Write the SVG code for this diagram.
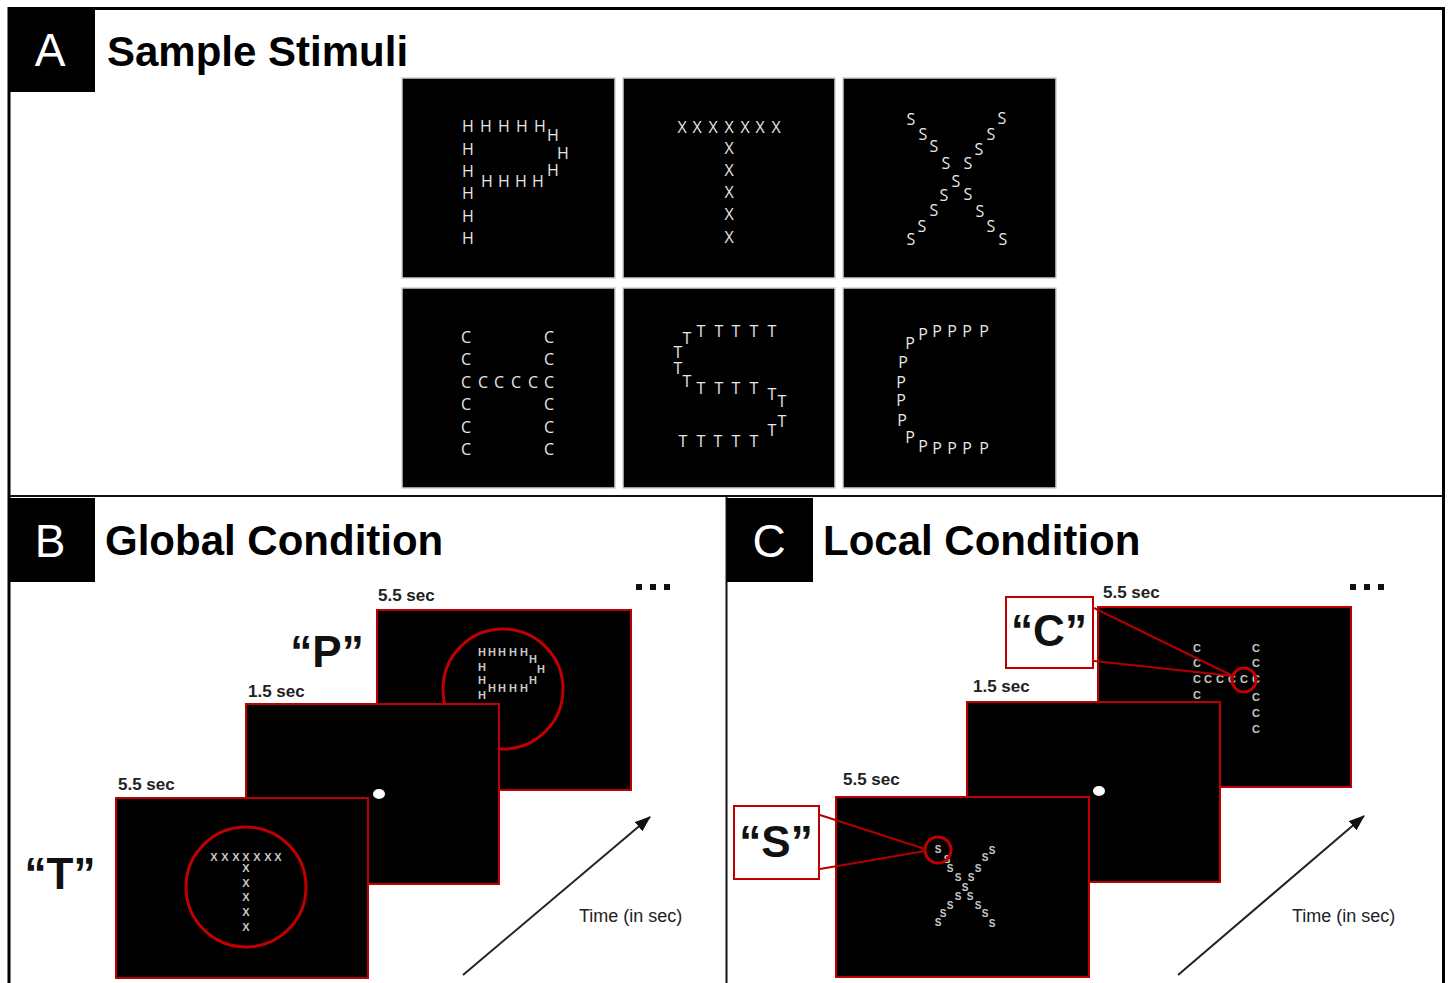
<svg xmlns="http://www.w3.org/2000/svg" width="1448" height="983" viewBox="0 0 1448 983">
  <defs>
    <style>
      .frame-line { fill: none; stroke: #000; stroke-width: 3; }
      .divider { stroke: #111; stroke-width: 2; }
      .tag { fill: #000; }
      .tag-text { font-family: "Liberation Sans", Arial, sans-serif; font-size: 46px; fill: #fff; text-anchor: middle; }
      .title { font-family: "Liberation Sans", Arial, sans-serif; font-weight: bold; font-size: 42px; fill: #000; }
      .card { fill: #000; stroke: #cfcfcf; stroke-width: 1.5; }
      .glyph { font-family: "Open Sans", "Noto Sans", sans-serif; font-size: 16px; fill: #e6e6e6; text-anchor: middle; }
      .screen { fill: #000; stroke: #c00000; stroke-width: 2; }
      .ring { fill: none; stroke: #c00000; stroke-width: 3; }
      .mini { font-family: "Liberation Sans", Arial, sans-serif; font-weight: bold; font-size: 11px; fill: #c8c8c8; text-anchor: middle; }
      .mini-s { font-family: "Liberation Sans", Arial, sans-serif; font-weight: bold; font-size: 10px; fill: #c8c8c8; text-anchor: middle; }
      .dur { font-family: "Liberation Sans", Arial, sans-serif; font-weight: bold; font-size: 17px; fill: #222; }
      .quote { font-family: "Liberation Sans", Arial, sans-serif; font-weight: bold; font-size: 44px; fill: #111; text-anchor: middle; }
      .axis { font-family: "Liberation Sans", Arial, sans-serif; font-size: 18px; fill: #222; }
      .callbox { fill: #fff; stroke: #c00000; stroke-width: 2; }
      .callline { stroke: #b00000; stroke-width: 2; fill: none; }
      .time-arrow { stroke: #222; stroke-width: 2; fill: none; marker-end: url(#head); }
      .dots { fill: #111; }
    </style>
    <marker id="head" viewBox="0 0 16 12" refX="15" refY="6" markerWidth="16" markerHeight="12" markerUnits="userSpaceOnUse" orient="auto">
      <path d="M0,0 L16,6 L0,12 z" fill="#111"/>
    </marker>
  </defs>

  <rect x="0" y="0" width="1448" height="983" fill="#fff"/>

  <!-- outer frame and panel dividers -->
  <g id="layout">
    <path class="frame-line" d="M9,983 V8.5 H1443.5 V983"/>
    <line class="divider" x1="9" y1="496" x2="1443" y2="496"/>
    <line class="divider" x1="726.5" y1="496" x2="726.5" y2="983"/>
  </g>

  <!-- panel A -->
  <g id="panel-a-header">
    <rect class="tag" x="8" y="8" width="87" height="84"/>
    <text class="tag-text" x="50" y="66">A</text>
    <text class="title" x="107" y="66" font-size="41">Sample Stimuli</text>
  </g>

  <g id="stim-P">
    <rect class="card" x="402" y="78" width="213" height="200"/>
    <g class="glyph">
      <text x="468" y="132">H</text><text x="486" y="132">H</text><text x="504" y="132">H</text><text x="522" y="132">H</text><text x="540" y="132">H</text>
      <text x="553" y="141">H</text><text x="563" y="159">H</text><text x="553" y="176">H</text>
      <text x="487" y="187">H</text><text x="504" y="187">H</text><text x="521" y="187">H</text><text x="538" y="187">H</text>
      <text x="468" y="155">H</text><text x="468" y="177">H</text><text x="468" y="199">H</text><text x="468" y="222">H</text><text x="468" y="244">H</text>
    </g>
  </g>

  <g id="stim-T">
    <rect class="card" x="623" y="78" width="212" height="200"/>
    <g class="glyph">
      <text x="682" y="133">X</text><text x="697" y="133">X</text><text x="713" y="133">X</text><text x="729" y="133">X</text><text x="745" y="133">X</text><text x="760" y="133">X</text><text x="776" y="133">X</text>
      <text x="729" y="154">X</text><text x="729" y="176">X</text><text x="729" y="198">X</text><text x="729" y="220">X</text><text x="729" y="243">X</text>
    </g>
  </g>

  <g id="stim-X">
    <rect class="card" x="843" y="78" width="213" height="200"/>
    <g class="glyph">
      <text x="911" y="125">S</text><text x="923" y="140">S</text><text x="934" y="152">S</text><text x="946" y="169">S</text>
      <text x="956" y="187">S</text>
      <text x="944" y="201">S</text><text x="934" y="216">S</text><text x="922" y="232">S</text><text x="911" y="245">S</text>
      <text x="1002" y="124">S</text><text x="991" y="140">S</text><text x="979" y="155">S</text><text x="968" y="169">S</text>
      <text x="968" y="200">S</text><text x="980" y="217">S</text><text x="991" y="232">S</text><text x="1003" y="245">S</text>
    </g>
  </g>

  <g id="stim-H">
    <rect class="card" x="402" y="288" width="213" height="200"/>
    <g class="glyph">
      <text x="466" y="343">C</text><text x="466" y="365">C</text><text x="466" y="388">C</text><text x="466" y="410">C</text><text x="466" y="433">C</text><text x="466" y="455">C</text>
      <text x="549" y="343">C</text><text x="549" y="365">C</text><text x="549" y="388">C</text><text x="549" y="410">C</text><text x="549" y="433">C</text><text x="549" y="455">C</text>
      <text x="483" y="388">C</text><text x="499" y="388">C</text><text x="516" y="388">C</text><text x="533" y="388">C</text>
    </g>
  </g>

  <g id="stim-S">
    <rect class="card" x="623" y="288" width="212" height="200"/>
    <g class="glyph">
      <text x="687" y="344">T</text>
      <text x="701" y="337">T</text><text x="719" y="337">T</text><text x="736" y="337">T</text><text x="754" y="337">T</text><text x="772" y="337">T</text>
      <text x="678" y="358">T</text><text x="678" y="374">T</text><text x="687" y="387">T</text>
      <text x="701" y="394">T</text><text x="719" y="394">T</text><text x="736" y="394">T</text><text x="754" y="394">T</text>
      <text x="772" y="400">T</text><text x="782" y="407">T</text>
      <text x="782" y="427">T</text><text x="772" y="436">T</text>
      <text x="683" y="447">T</text><text x="701" y="447">T</text><text x="718" y="447">T</text><text x="736" y="447">T</text><text x="754" y="447">T</text>
    </g>
  </g>

  <g id="stim-C">
    <rect class="card" x="843" y="288" width="213" height="200"/>
    <g class="glyph">
      <text x="910" y="349">P</text><text x="923" y="340">P</text>
      <text x="937" y="337">P</text><text x="952" y="337">P</text><text x="967" y="337">P</text><text x="984" y="337">P</text>
      <text x="903" y="368">P</text><text x="901" y="388">P</text><text x="901" y="406">P</text><text x="902" y="426">P</text>
      <text x="910" y="443">P</text><text x="923" y="452">P</text>
      <text x="937" y="454">P</text><text x="952" y="454">P</text><text x="967" y="454">P</text><text x="984" y="454">P</text>
    </g>
  </g>

  <!-- panel B -->
  <g id="panel-b-header">
    <rect class="tag" x="8" y="498" width="87" height="84"/>
    <text class="tag-text" x="50" y="557">B</text>
    <text class="title" x="105" y="555">Global Condition</text>
  </g>

  <g id="global-trial-3">
    <text class="dur" x="378" y="601">5.5 sec</text>
    <rect class="screen" x="377" y="610" width="254" height="180"/>
    <circle class="ring" cx="503" cy="689" r="60"/>
    <g class="mini">
      <text x="482" y="656">H</text><text x="492" y="656">H</text><text x="502" y="656">H</text><text x="513" y="656">H</text><text x="524" y="656">H</text>
      <text x="533" y="663">H</text><text x="541" y="673">H</text><text x="533" y="684">H</text>
      <text x="492" y="692">H</text><text x="502" y="692">H</text><text x="513" y="692">H</text><text x="524" y="692">H</text>
      <text x="482" y="671">H</text><text x="482" y="684">H</text><text x="482" y="699">H</text>
    </g>
    <text class="quote" x="327" y="667">“P”</text>
  </g>

  <g id="global-fixation">
    <text class="dur" x="248" y="697">1.5 sec</text>
    <rect class="screen" x="246" y="704" width="253" height="180"/>
    <ellipse cx="379" cy="794" rx="6" ry="5" fill="#fff"/>
  </g>

  <g id="global-trial-1">
    <text class="dur" x="118" y="790">5.5 sec</text>
    <rect class="screen" x="116" y="798" width="252" height="180"/>
    <circle class="ring" cx="246" cy="887" r="60"/>
    <g class="mini">
      <text x="214" y="861">X</text><text x="225" y="861">X</text><text x="236" y="861">X</text><text x="246" y="861">X</text><text x="257" y="861">X</text><text x="268" y="861">X</text><text x="278" y="861">X</text>
      <text x="246" y="872">X</text><text x="246" y="887">X</text><text x="246" y="901">X</text><text x="246" y="916">X</text><text x="246" y="931">X</text>
    </g>
    <text class="quote" x="60" y="889">“T”</text>
  </g>

  <g id="global-more">
    <rect class="dots" x="636" y="584" width="6" height="6"/>
    <rect class="dots" x="650" y="584" width="6" height="6"/>
    <rect class="dots" x="664" y="584" width="6" height="6"/>
  </g>

  <g id="global-time-label">
    <text class="axis" x="579" y="922">Time (in sec)</text>
  </g>

  <!-- panel C -->
  <g id="panel-c-header">
    <rect class="tag" x="727" y="498" width="86" height="84"/>
    <text class="tag-text" x="769" y="557">C</text>
    <text class="title" x="823" y="555">Local Condition</text>
  </g>

  <g id="local-trial-3">
    <text class="dur" x="1103" y="598">5.5 sec</text>
    <rect class="screen" x="1098" y="607" width="253" height="180"/>
    <g class="mini" font-size="12">
      <text x="1197" y="652">C</text><text x="1197" y="667">C</text><text x="1197" y="683">C</text><text x="1197" y="699">C</text>
      <text x="1256" y="652">C</text><text x="1256" y="667">C</text><text x="1256" y="683">C</text><text x="1256" y="701">C</text><text x="1256" y="717">C</text><text x="1256" y="733">C</text>
      <text x="1208" y="683">C</text><text x="1220" y="683">C</text><text x="1232" y="683">C</text><text x="1244" y="683">C</text>
    </g>
    <circle class="ring" cx="1244" cy="680" r="12"/>
  </g>

  <g id="local-fixation">
    <text class="dur" x="973" y="692">1.5 sec</text>
    <rect class="screen" x="967" y="702" width="253" height="180"/>
    <ellipse cx="1099" cy="791" rx="6" ry="5" fill="#fff"/>
  </g>

  <g id="local-trial-1">
    <text class="dur" x="843" y="785">5.5 sec</text>
    <rect class="screen" x="836" y="797" width="253" height="180"/>
    <g class="mini-s">
      <text x="938" y="853">S</text><text x="947" y="863">S</text><text x="950" y="872">S</text><text x="958" y="881">S</text>
      <text x="965" y="891">S</text>
      <text x="958" y="900">S</text><text x="950" y="909">S</text><text x="943" y="917">S</text><text x="938" y="926">S</text>
      <text x="992" y="854">S</text><text x="985" y="861">S</text><text x="978" y="872">S</text><text x="971" y="881">S</text>
      <text x="970" y="900">S</text><text x="978" y="909">S</text><text x="985" y="917">S</text><text x="992" y="927">S</text>
    </g>
    <circle class="ring" cx="938" cy="850" r="13"/>
  </g>

  <g id="local-more">
    <rect class="dots" x="1350" y="584" width="6" height="6"/>
    <rect class="dots" x="1364" y="584" width="6" height="6"/>
    <rect class="dots" x="1378" y="584" width="6" height="6"/>
  </g>

  <g id="local-time-label">
    <text class="axis" x="1292" y="922">Time (in sec)</text>
  </g>

  <g id="callout-C">
    <rect class="callbox" x="1006" y="597" width="87" height="71"/>
    <text class="quote" x="1049" y="646" font-size="42">“C”</text>
  </g>

  <g id="callout-S">
    <rect class="callbox" x="734" y="806" width="85" height="73"/>
    <text class="quote" x="776" y="857" font-size="42">“S”</text>
  </g>

  <!-- connectors: callout leader lines and time axes -->
  <g id="connectors">
    <line class="callline" x1="1094" y1="608" x2="1233" y2="676"/>
    <line class="callline" x1="1094" y1="661" x2="1233" y2="676"/>
    <line class="callline" x1="820" y1="815" x2="925" y2="849"/>
    <line class="callline" x1="820" y1="869" x2="925" y2="851"/>
    <line class="time-arrow" x1="463" y1="975" x2="650" y2="817"/>
    <line class="time-arrow" x1="1178" y1="975" x2="1364" y2="816"/>
  </g>
</svg>
